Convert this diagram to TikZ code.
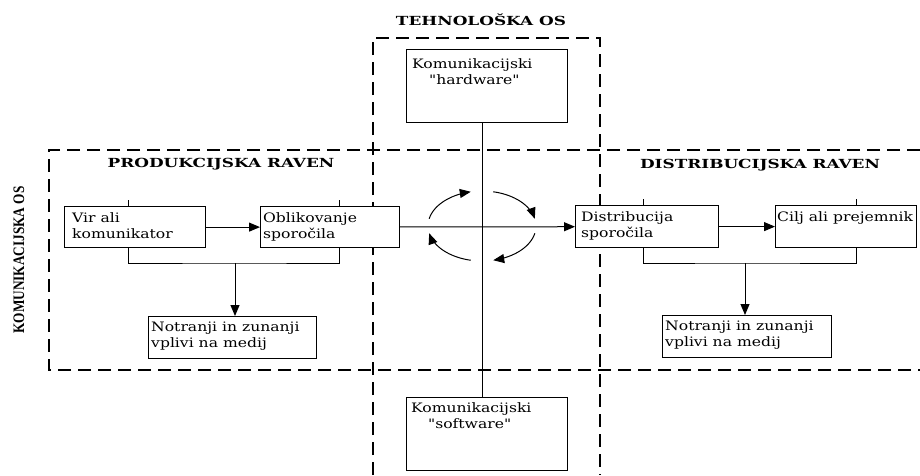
\documentclass[tikz,border=0pt]{standalone}
\usepackage{fontspec}
\usetikzlibrary{arrows.meta}
\newfontfamily\boxfont[FakeStretch=1.2]{DejaVu Serif}
\newfontfamily\headfont[FakeStretch=1.35]{DejaVu Serif}
\newfontfamily\axisfont[FakeStretch=0.83]{Liberation Serif}
\tikzset{
  box/.style={draw, fill=white, line width=1.2pt, anchor=north west, inner sep=0pt},
  txt/.style={anchor=north west, align=left, inner sep=0pt, font=\boxfont\fontsize{13}{16}\selectfont},
  head/.style={font=\headfont\bfseries\fontsize{12.5}{14}\selectfont},
  zone/.style={dash pattern=on 13pt off 7pt, line width=1.2pt},
  link/.style={line width=1pt},
  arr/.style={link, -{Triangle[length=11pt,width=9pt]}},
}
\begin{document}
\begin{tikzpicture}[x=1pt,y=-1pt]
\useasboundingbox (0,0) rectangle (920,475);
% dashed zones
\draw[zone] (373,475) -- (373,38) -- (600,38) -- (600,475);
\draw[zone] (920,150) -- (49,150) -- (49,370) -- (920,370);
% titles
\node[head] (tos) at (481,20) {TEHNOLOŠKA OS};
\node[head] (prodt) at (221,164) {PRODUKCIJSKA RAVEN};
\node[head] (distt) at (760,165) {DISTRIBUCIJSKA RAVEN};
\node[font=\axisfont\bfseries\fontsize{16}{18}\selectfont, rotate=90] (kos) at (19,260) {KOMUNIKACIJSKA OS};
% connectors behind the boxes
\coordinate (ctr) at (482,226);
\coordinate (pj) at (235,263);
\coordinate (dj) at (745,263);
% boxes
\node[box, minimum width=141pt, minimum height=41pt] (vir) at (64,206) {};
\node[box, minimum width=139pt, minimum height=41pt] (obl) at (260,206) {};
\node[box, minimum width=168pt, minimum height=42pt] (notl) at (148,316) {};
\node[box, minimum width=143pt, minimum height=42pt] (dis) at (575,205) {};
\node[box, minimum width=141pt, minimum height=42pt] (cilj) at (775,205) {};
\node[box, minimum width=169pt, minimum height=42pt] (notr) at (662,315) {};
\node[box, minimum width=161pt, minimum height=73pt] (hw) at (406,49) {};
\node[box, minimum width=161pt, minimum height=73pt] (sw) at (406,397) {};
% box texts
\node[txt] (vir-t) at (72,212) {Vir ali\\komunikator};
\node[txt] (obl-t) at (263,212) {Oblikovanje\\sporočila};
\node[txt] (notl-t) at (151,322) {Notranji in zunanji\\vplivi na medij};
\node[txt] (dis-t) at (581,211) {Distribucija\\sporočila};
\node[txt] (cilj-t) at (777,211) {Cilj ali prejemnik};
\node[txt] (notr-t) at (665,321) {Notranji in zunanji\\vplivi na medij};
\node[txt] (hw-t) at (412,58) {Komunikacijski\\\hspace*{1.3em}"hardware"};
\node[txt] (sw-t) at (411,402) {Komunikacijski\\\hspace*{1.3em}"software"};
% connectors
\draw[arr] (vir) -- (obl);
\draw[arr] (obl) -- (dis);
\draw[arr] (dis) -- (cilj);
\draw[link] (hw.south -| ctr) -- (sw.north -| ctr);
\draw[link] ([xshift=-6.5pt]vir.north) -- ++(0,-6);
\draw[link] ([xshift=9.5pt]obl.north) -- ++(0,-6);
\draw[link] ([xshift=-3.5pt]dis.north) -- ++(0,-6);
\draw[link] ([xshift=10.5pt]cilj.north) -- ++(0,-6);
\draw[link] ([xshift=-6.5pt]vir.south) |- (pj) -| ([xshift=9.5pt]obl.south);
\draw[link] ([xshift=-3.5pt]dis.south) |- (dj) -| ([xshift=10.5pt]cilj.south);
\draw[arr] (pj) -- (notl.north -| pj);
\draw[arr] (dj) -- (notr.north -| dj);
% rotating arrows
\draw[arr] plot[domain=168:102, samples=25] ({482+54*cos(\x)}, {226-35*sin(\x)});
\draw[arr] plot[domain=78:12, samples=25] ({482+54*cos(\x)}, {226-35*sin(\x)});
\draw[arr] plot[domain=-12:-78, samples=25] ({482+54*cos(\x)}, {226-35*sin(\x)});
\draw[arr] plot[domain=-102:-168, samples=25] ({482+54*cos(\x)}, {226-35*sin(\x)});
\end{tikzpicture}
\end{document}
